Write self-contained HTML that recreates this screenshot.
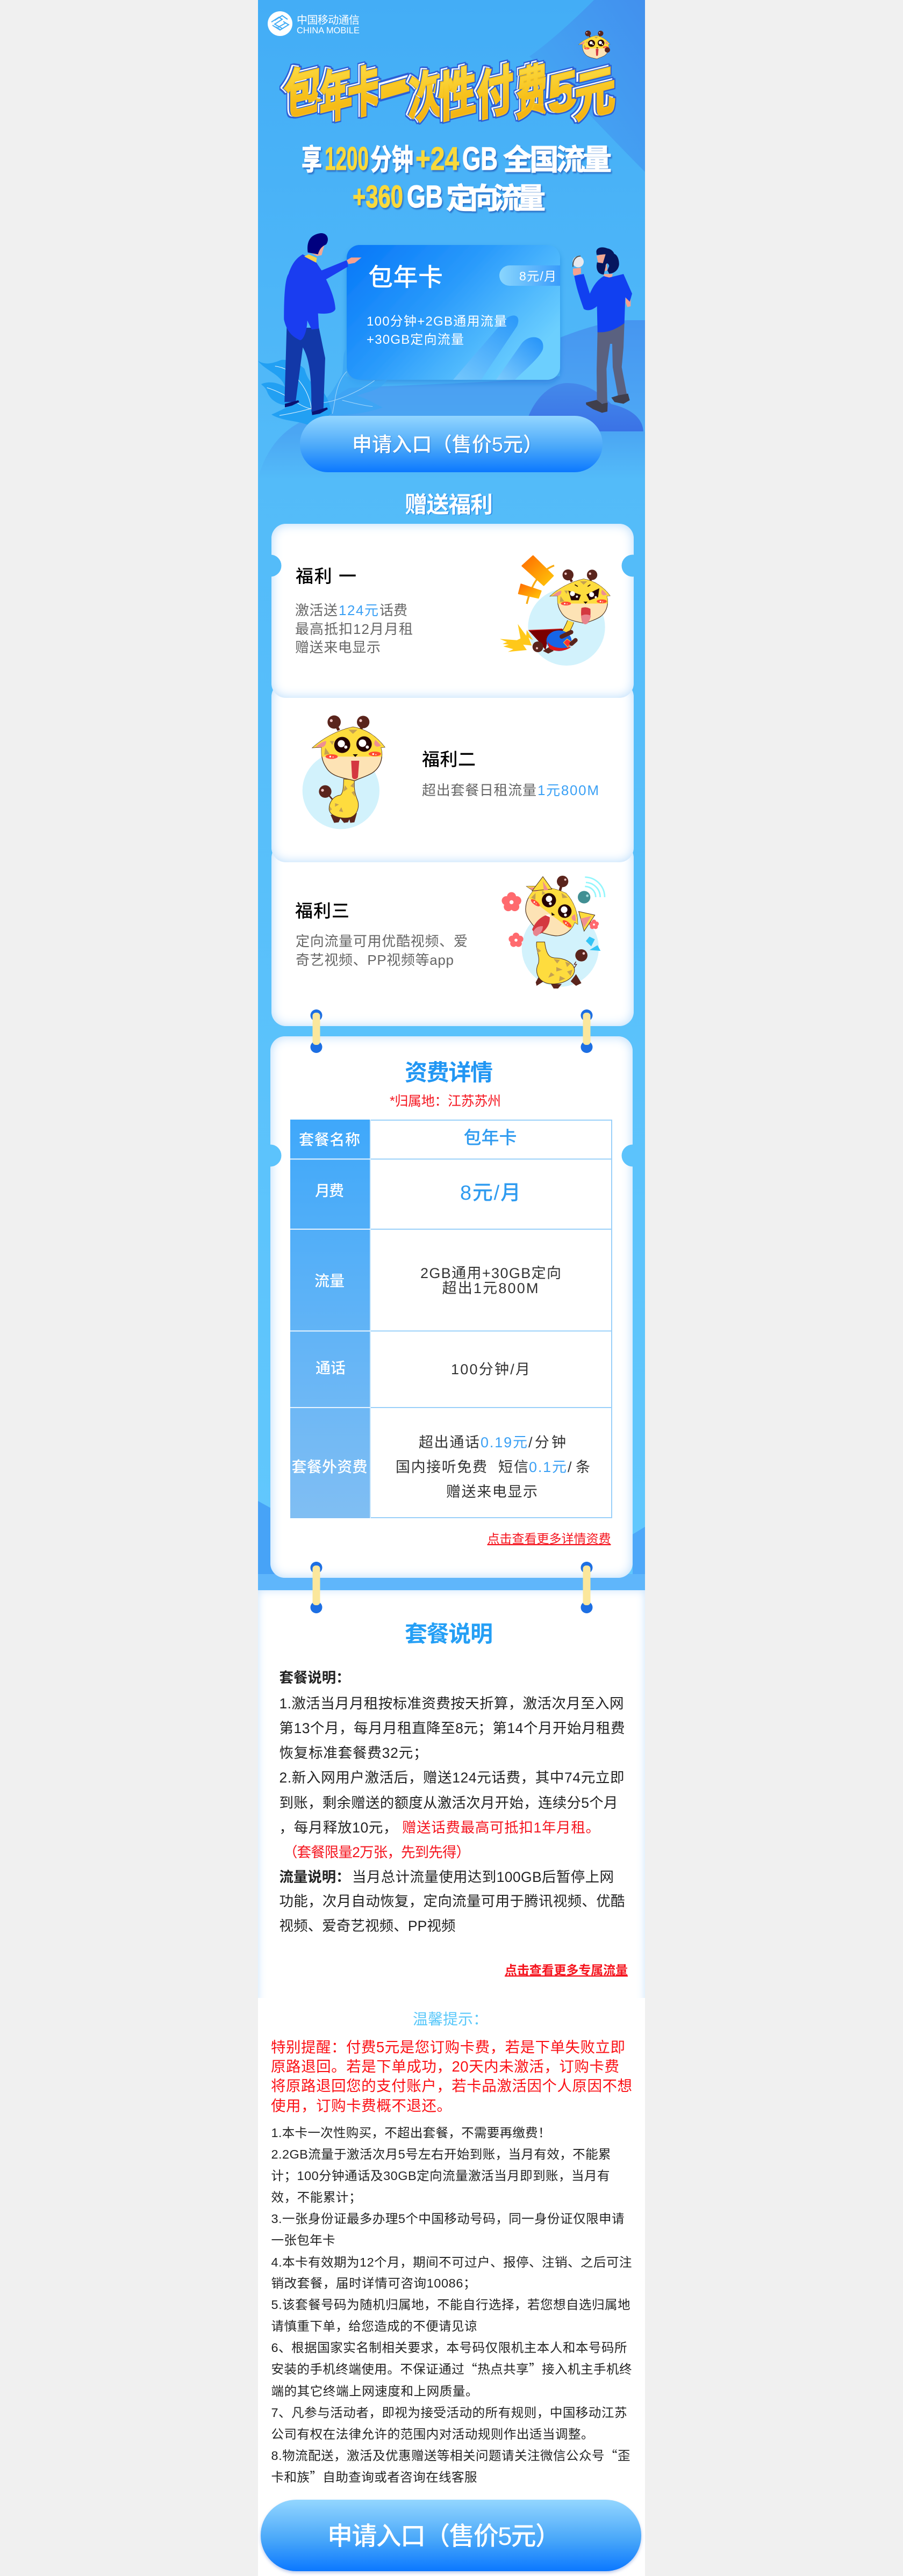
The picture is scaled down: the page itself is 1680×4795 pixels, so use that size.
<!DOCTYPE html>
<html lang="zh"><head><meta charset="utf-8"><title>包年卡</title>
<style>
html,body{margin:0;padding:0;background:#f0f0f0}
#p{position:relative;width:1680px;height:4795px;overflow:hidden;background:#f0f0f0;font-family:"Liberation Sans","Noto Sans CJK SC",sans-serif}
svg{position:absolute;left:0;top:0}
svg text{font-family:"Liberation Sans","Noto Sans CJK SC",sans-serif}
.c{position:absolute;background:#fff;border-radius:27px;box-shadow:inset 0 0 20px #b5dafb}
.g{fill:#666}.h{fill:#3aa0f5}.k{fill:#222}.r{fill:#f5141e}.d{fill:#000;font-weight:500}
.q{font-family:"Noto Sans CJK SC",sans-serif}
</style></head><body><div id="p">
<svg width="1680" height="4795" viewBox="0 0 1680 4795">
<defs>
<linearGradient id="bg" x1="0" y1="0" x2="0" y2="1"><stop offset="0" stop-color="#43adf6"/><stop offset=".3" stop-color="#53bbf9"/><stop offset="1" stop-color="#62c8fd"/></linearGradient>
<linearGradient id="tr" x1="1" y1="0" x2="0" y2="1"><stop offset="0" stop-color="#4290ee"/><stop offset="1" stop-color="#45adf5"/></linearGradient>
<linearGradient id="ba" gradientUnits="userSpaceOnUse" x1="0" y1="596" x2="0" y2="800"><stop offset="0" stop-color="#4696f0"/><stop offset="1" stop-color="#4ea9f5"/></linearGradient>
<linearGradient id="hb" gradientUnits="userSpaceOnUse" x1="0" y1="700" x2="0" y2="892"><stop offset="0" stop-color="#4b9ff1"/><stop offset=".55" stop-color="#4ba6f3"/><stop offset="1" stop-color="#53bbf9"/></linearGradient>
<linearGradient id="hl" gradientUnits="userSpaceOnUse" x1="0" y1="713" x2="0" y2="804"><stop offset="0" stop-color="#4489ea"/><stop offset="1" stop-color="#3a72e6"/></linearGradient>
</defs>
<rect x="480" y="0" width="720" height="2960" fill="url(#bg)"/>
<path d="M1105 0C1060 45 1020 80 985 105C1040 150 1120 240 1200 320V0Z" fill="url(#tr)"/>
<path d="M1043 628C1090 610 1130 598 1167 596H1200V804H1040Z" fill="url(#ba)"/>
<path d="M480 892C495 830 535 790 585 775C600 755 625 735 650 722C760 716 900 714 1042 700L1042 800L1200 804V892Z" fill="url(#hb)"/>
<path d="M975 803C985 750 1020 713 1055 713C1090 713 1115 730 1137 752C1170 760 1195 775 1197 803Z" fill="url(#hl)"/>
<path d="M480 2794L520 2816V2960H480Z" fill="#47a3f7"/>
<path d="M1200 2842L1177 2856V2960H1200Z" fill="#4ea8f9"/>
<rect x="480" y="2930" width="720" height="30" fill="#5fb6fb"/>
</svg>

<div class="c" style="left:505px;top:1570px;width:674px;height:340px;z-index:1"></div>
<div class="c" style="left:505px;top:1270px;width:674px;height:335px;z-index:2"></div>
<div class="c" style="left:505px;top:975px;width:674px;height:324px;z-index:3"></div>
<div class="c" style="left:503px;top:1929px;width:674px;height:1008px;z-index:1"></div>
<div style="position:absolute;left:480px;top:2960px;width:720px;height:790px;background:#fff;box-shadow:inset 0 0 16px #c9e3fd;z-index:1"></div>
<div style="position:absolute;left:480px;top:3719px;width:720px;height:1076px;background:#fff;z-index:2"></div>

<svg width="1680" height="4795" viewBox="0 0 1680 4795" style="z-index:5" font-size="26">
<defs>
<linearGradient id="ty" x1="0" y1="0" x2="0" y2="1"><stop offset="0" stop-color="#fbdc45"/><stop offset=".55" stop-color="#f7c01a"/><stop offset="1" stop-color="#f2ac12"/></linearGradient>
<linearGradient id="cd" x1="0" y1="0" x2="1" y2=".6"><stop offset="0" stop-color="#0576f8"/><stop offset=".5" stop-color="#2a9bfb"/><stop offset="1" stop-color="#6ccffe"/></linearGradient>
<linearGradient id="bt" x1="0" y1="0" x2="0" y2="1"><stop offset="0" stop-color="#93d6ff"/><stop offset=".55" stop-color="#4aa8f9"/><stop offset="1" stop-color="#0b78ff"/></linearGradient>
<linearGradient id="st" x1="1" y1="0" x2="0" y2="1"><stop offset="0" stop-color="#1c8cf8"/><stop offset="1" stop-color="#7fcbfd"/></linearGradient>
<linearGradient id="tb" x1="0" y1="0" x2="0" y2="1"><stop offset="0" stop-color="#3fa8fa"/><stop offset="1" stop-color="#80bef3"/></linearGradient>
<linearGradient id="bf" x1="0" y1="0" x2="1" y2="1"><stop offset="0" stop-color="#ff6a00"/><stop offset="1" stop-color="#ffc80a"/></linearGradient>
<linearGradient id="bd" x1="0" y1="0" x2="1" y2="0"><stop offset="0" stop-color="#8ad6fd"/><stop offset="1" stop-color="#3a9cfb"/></linearGradient>
<filter id="sb" x="-10%" y="-20%" width="125%" height="150%"><feDropShadow dx="0" dy="6" stdDeviation="5" flood-color="#1d6fd0" flood-opacity=".45"/></filter>
<filter id="tt" x="-30%" y="-30%" width="160%" height="160%" color-interpolation-filters="sRGB">
 <feMorphology in="SourceAlpha" operator="dilate" radius="1" result="d"/>
 <feOffset in="d" dx="-6" dy="-3" result="o"/>
 <feFlood flood-color="#fff" result="wf"/><feComposite in="wf" in2="o" operator="in" result="w"/>
 <feOffset in="SourceAlpha" dx="-3" dy="-1.500" result="o2"/>
 <feFlood flood-color="#2c5fd6" result="bf"/><feComposite in="bf" in2="o2" operator="in" result="bi"/>
 <feMerge result="m"><feMergeNode in="w"/><feMergeNode in="bi"/><feMergeNode in="SourceGraphic"/></feMerge>
 <feMorphology in="m" operator="dilate" radius="2.500" result="out"/>
 <feComposite in="bf" in2="out" operator="in" result="bo"/>
 <feMerge><feMergeNode in="bo"/><feMergeNode in="m"/></feMerge>
</filter>
<clipPath id="ck"><rect x="-260" y="-200" width="520" height="215"/></clipPath>
<g id="gh">
 <path id="hp" d="M-210-35C-160-80-80-130 15-150C90-138 150-95 192-38L170-36C185 10 175 70 125 105C85 130 50 135 25 150C-30 135-105 130-135 75C-165 30-160-10-160-38Z" fill="#fde3b5" stroke="#4a2e1a" stroke-width="4"/>
 <path clip-path="url(#ck)" d="M-210-35C-160-80-80-130 15-150C90-138 150-95 192-38L170-36C185 10 175 70 125 105C85 130 50 135 25 150C-30 135-105 130-135 75C-165 30-160-10-160-38Z" fill="#fedc3e"/>
 <path d="M-195-38C-170-60-150-70-135-72C-132-55-145-40-155-38ZM172-45C160-60 150-70 140-78C128-55 135-45 150-40Z" fill="#ee8f92"/>
 <path d="M-140-35L-115 0L-145 5ZM-115-72L-90-72L-100-50ZM-10-135H40L15-112Z" fill="#c4a052"/>
 <ellipse cx="-104" cy="15" rx="34" ry="13" fill="#ff3030" opacity=".85"/><ellipse cx="137" cy="0" rx="34" ry="13" fill="#ff3030" opacity=".85"/>
 <circle cx="-112" cy="15" r="5" fill="#fff"/><circle cx="-96" cy="17" r="3" fill="#fff"/><circle cx="128" cy="1" r="5" fill="#fff"/><circle cx="143" cy="4" r="3" fill="#fff"/>
 <path d="M14 2H42L28 17Z" fill="#1a0805"/>
</g>
<g id="ga"><path d="M-90-178L-64-132M72-178L58-132" stroke="#5a1f14" stroke-width="16" fill="none"/><circle cx="-90" cy="-178" r="37" fill="#5a241c"/><circle cx="72" cy="-178" r="35" fill="#5a241c"/><circle cx="-106" cy="-186" r="8" fill="#f3c7c7"/><circle cx="58" cy="-186" r="8" fill="#f3c7c7"/></g>
<g id="ge"><circle cx="-45" cy="-50" r="45" fill="#250505"/><circle cx="77" cy="-55" r="43" fill="#250505"/><circle cx="-50" cy="-57" r="20" fill="#fff"/><circle cx="-25" cy="-38" r="9" fill="#fff"/><circle cx="68" cy="-60" r="21" fill="#fff"/><circle cx="95" cy="-38" r="9" fill="#fff"/></g>
<g id="fl"><circle cx="0" cy="-11" r="9"/><circle cx="10.500" cy="-3" r="9"/><circle cx="6.500" cy="9" r="9"/><circle cx="-6.500" cy="9" r="9"/><circle cx="-10.500" cy="-3" r="9"/><circle r="4" fill="#fff"/></g>
</defs>

<!-- logo -->
<circle cx="521" cy="44" r="23" fill="#fff"/>
<path d="M505 41L519 32L525 36L511 45L525 53M511 38L525 29L535 36M507 47L521 56L537 46L527 40M513 50L521 55M531 43L517 51" fill="none" stroke="#43adf6" stroke-width="2"/>
<text x="552" y="44" font-size="20" fill="#fff" textLength="117">中国移动通信</text>
<text x="552" y="62" font-size="16.500" fill="#fff" textLength="117" lengthAdjust="spacingAndGlyphs">CHINA MOBILE</text>

<!-- title mascot -->
<g transform="translate(1107 88) scale(.145)"><use href="#ga"/><use href="#gh"/><use href="#ge"/><path d="M10 20H45L38 100C30 115 18 115 14 100Z" fill="#d43840"/></g>
<circle cx="1130" cy="93" r="5" fill="#5a241c"/>
<!-- title -->
<g font-size="98" font-weight="700" text-anchor="middle" fill="url(#ty)" stroke="#f7c31d" stroke-width="4" paint-order="stroke">
<text filter="url(#tt)" transform="translate(564 206) skewY(-14) scale(.74 1)">包</text>
<text filter="url(#tt)" transform="translate(625 215) skewY(-14) scale(.62 1.06)">年</text>
<text filter="url(#tt)" transform="translate(678 206) skewY(-14) scale(.64 1)">卡</text>
<text filter="url(#tt)" transform="translate(735 222) skewY(-16) scale(.56 1.5)">一</text>
<text filter="url(#tt)" transform="translate(792 214) skewY(-14) scale(.66 1)">次</text>
<text filter="url(#tt)" transform="translate(851 210) skewY(-14) scale(.72 1)">性</text>
<text filter="url(#tt)" transform="translate(921 207) skewY(-14) scale(.7 1)">付</text>
<text filter="url(#tt)" transform="translate(990 207) skewY(-14) scale(.6 1.04)">费</text>
<text filter="url(#tt)" transform="translate(1047 206) skewY(-14) scale(1 1.02)">5</text>
<text filter="url(#tt)" transform="translate(1107 209) skewY(-14) scale(.78 1)">元</text>
</g>
<!-- subtitle -->
<g font-weight="700" stroke-width="1.200" style="filter:drop-shadow(2px 3px 1px #2d74cb)">
<text x="561" y="316" font-size="54" fill="#fff" stroke="#fff" textLength="38" lengthAdjust="spacingAndGlyphs">享</text>
<text x="604" y="316" font-size="60" fill="#f8d93c" stroke="#f8d93c" textLength="82" lengthAdjust="spacingAndGlyphs">1200</text>
<text x="689" y="316" font-size="54" fill="#fff" stroke="#fff" textLength="80" lengthAdjust="spacingAndGlyphs">分钟</text>
<text x="773" y="316" font-size="60" fill="#f8d93c" stroke="#f8d93c" textLength="81" lengthAdjust="spacingAndGlyphs">+24</text>
<text x="860" y="316" font-size="60" fill="#fff" stroke="#fff" textLength="66" lengthAdjust="spacingAndGlyphs">GB</text>
<text x="936" y="316" font-size="54" fill="#fff" stroke="#fff" textLength="202">全国流量</text>
<text x="656" y="386" font-size="58" fill="#f8d93c" stroke="#f8d93c" textLength="94" lengthAdjust="spacingAndGlyphs">+360</text>
<text x="757" y="386" font-size="58" fill="#fff" stroke="#fff" textLength="67" lengthAdjust="spacingAndGlyphs">GB</text>
<text x="830" y="388" font-size="54" fill="#fff" stroke="#fff" textLength="185">定向流量</text>
</g>

<!-- card -->
<rect x="645" y="456" width="397" height="251" rx="24" fill="url(#cd)" filter="url(#sb)"/>
<clipPath id="cc"><rect x="645" y="456" width="397" height="251" rx="24"/></clipPath>
<g clip-path="url(#cc)">
<path d="M843 707L935 600C948 582 972 582 962 607L895 707Z" fill="url(#st)" opacity=".75"/>
<path d="M923 707L970 640C985 620 1015 625 1010 650C1005 665 975 690 958 707Z" fill="url(#st)" opacity=".9"/>
<path d="M948 494H1042V532H948A19 19 0 0 1 948 494Z" fill="url(#bd)"/>
</g>
<text x="685" y="532" font-size="46" font-weight="500" fill="#fff" textLength="139">包年卡</text>
<text x="966" y="522" font-size="23" fill="#fff" textLength="69">8元/月</text>
<text x="682" y="606" font-size="24" fill="#fff" textLength="261">100分钟+2GB通用流量</text>
<text x="682" y="640" font-size="24" fill="#fff" textLength="181">+30GB定向流量</text>

<!-- man left, leaves -->
<g transform="translate(480 420) scale(.33333)">
<path d="M350 990C400 960 440 880 470 830C480 780 470 720 490 690L490 840C540 860 630 880 720 860C690 920 600 930 550 950C620 970 660 1000 695 1015C630 1040 520 1060 410 1060Z" fill="#3aa5f4" opacity=".75"/>
<path d="M0 755C40 780 80 770 130 750C170 745 230 770 260 800C270 840 290 880 330 900C370 920 400 980 410 1050C370 1075 320 1115 270 1110C220 1090 130 1090 75 1055C110 1040 150 1020 180 1005C120 1005 70 980 50 925C40 900 25 895 18 885C50 870 100 870 150 900C130 830 40 810 0 755Z" fill="#22a0f3"/>
<path d="M95 785C140 790 190 810 240 880C270 920 290 970 298 1020M50 905C100 920 160 950 220 990C250 1010 280 1020 300 1025M120 1060C180 1050 250 1035 300 1020" stroke="#fff" stroke-width="3" fill="none" opacity=".9"/>
<path d="M495 815C460 850 440 900 430 970C425 1000 420 1030 415 1050M350 990C430 985 560 930 650 865M470 975C530 990 590 1005 640 1010" stroke="#a8d8fa" stroke-width="3" fill="none"/>
<path d="M160 570L148 985L210 985L250 680C290 750 300 850 298 1040L365 1030L375 740L340 570Z" fill="#1238a8"/>
<path d="M150 995L225 975L230 985L190 1005L150 1015ZM300 1040L385 1015L390 1025L345 1050L302 1058Z" fill="#0b1270"/>
<path d="M345 415L358 450L335 485L298 475L330 460Z" fill="#f5a18f"/>
<path d="M290 150L330 170L355 165L370 110L330 100Z" fill="#f2a793"/>
<path d="M250 160L275 175L325 205L355 250L495 193L503 228L380 300C410 360 430 420 432 465C425 490 380 495 335 490L340 575L300 580L275 530C275 580 255 640 235 640C190 620 160 590 145 525C145 400 150 300 170 270C190 210 215 180 250 160Z" fill="#1a3df0"/>
<path d="M258 172L282 160L328 180L325 207Z" fill="#f7d048"/>
<path d="M278 150C270 90 290 50 350 42C390 40 400 80 380 105C360 115 345 125 335 160Z" fill="#00007f"/>
<path d="M495 193L520 178L578 178L540 208L505 215Z" fill="#f5a18f"/>
</g>

<!-- man right -->
<g transform="translate(960 430) scale(.33333)">
<path d="M455 560L605 515L600 650L590 760L620 920L570 925L540 760L537 630L525 630L505 770L510 965L452 960L450 780Z" fill="#5a6180"/>
<path d="M390 958L450 943L480 965L512 958L510 1008L480 1015L430 995L392 970ZM532 930L570 918L625 908L635 945L600 965L550 955Z" fill="#403f4d"/>
<ellipse cx="347" cy="172" rx="31" ry="31" fill="#e8e9ee"/><path d="M360 140C335 140 315 160 318 200" stroke="#555" stroke-width="6" fill="none"/>
<path d="M318 210L362 205L363 238L325 250L318 240ZM612 370L640 380L640 420L622 425L612 400Z" fill="#f5a18f"/>
<path d="M490 240L540 240L535 258L510 262L490 250ZM450 140L500 120L510 220L470 230Z" fill="#f2a793"/>
<path d="M325 250L378 240L412 350C430 310 450 275 490 252L520 260L600 240L648 350L635 395L610 370L605 515C570 540 520 570 455 565L452 420C430 440 400 450 378 435C355 370 335 310 325 250Z" fill="#1140f0"/>
<path d="M448 115C450 92 480 85 510 97C530 100 545 115 548 127C570 135 577 170 575 190C570 220 545 238 520 238L510 220L520 195C515 175 500 175 500 200L490 243C465 243 448 225 450 190L452 175L485 180L500 130C480 130 460 135 450 133Z" fill="#06165e"/>
</g>

<!-- button 1 -->
<rect x="558" y="774" width="563" height="105" rx="52" fill="url(#bt)"/>
<text x="655" y="840" font-size="37" font-weight="500" fill="#fff" textLength="355" style="filter:drop-shadow(1px 1px 1px rgba(20,80,170,.4))">申请入口（售价5元）</text>

<!-- benefits -->
<text x="753" y="954" font-size="42" font-weight="700" fill="#fff" textLength="164" style="filter:drop-shadow(2px 1px 0 #2f8fe8)">赠送福利</text>
<g fill="#54bcf9"><circle cx="503" cy="1053" r="20.500"/><circle cx="1177" cy="1053" r="20.500"/></g>

<text x="550" y="1084" font-size="33" class="d" textLength="113">福利 一</text>
<text x="549" y="1145" class="g" textLength="79">激活送</text><text x="630" y="1145" class="h" textLength="74">124元</text><text x="706" y="1145" class="g" textLength="52">话费</text>
<text x="549" y="1180" class="g" textLength="219">最高抵扣12月月租</text>
<text x="549" y="1214" class="g" textLength="159">赠送来电显示</text>

<!-- giraffe 1 -->
<g transform="translate(930 1010) scale(.33333)">
<circle cx="372" cy="472" r="215" fill="#d2f2fc"/>
<path d="M303 128Q190 170 150 342" stroke="#f8ab12" stroke-width="10" fill="none"/>
<path d="M185 75L297 185L245 238L125 130Z" fill="url(#bf)" stroke="url(#bf)" stroke-width="8" stroke-linejoin="round"/>
<path d="M118 232L230 270L215 310L104 285Z" fill="url(#bf)" stroke="url(#bf)" stroke-width="6" stroke-linejoin="round"/>
<path d="M100 455L147 520L150 488L185 545L160 530L178 575L130 570L150 600L45 610L75 595L20 580L50 570L15 565L40 555L0 538L95 545L115 535Z" fill="#ffc81a"/>
<path d="M160 490L345 482L365 495L270 530L255 600L215 550Z" fill="#7a0000"/>
<path d="M160 490L345 482L365 495" stroke="#d42020" stroke-width="4" fill="none"/>
<path d="M395 440C385 470 370 490 360 515" stroke="#4a2e1a" stroke-width="40" fill="none"/><path d="M395 440C385 470 370 490 360 515" stroke="#fedc3e" stroke-width="34" fill="none"/>
<ellipse cx="212" cy="582" rx="30" ry="30" fill="#5a241c"/><circle cx="207" cy="590" r="6" fill="#f3c7c7"/>
<path d="M240 605L280 580L300 605L270 620Z" fill="#5a241c"/>
<ellipse cx="330" cy="548" rx="70" ry="58" fill="#1665e6"/>
<path d="M264 545C275 585 340 600 398 580C380 605 300 615 275 590Z" fill="#e01818"/>
<path d="M375 538L398 555L380 585L355 558Z" fill="#f33" stroke="#ffd21f" stroke-width="3"/>
<path d="M345 525L398 500M400 565L422 545" stroke="#5a241c" stroke-width="24" stroke-linecap="round"/>
<g transform="translate(455 328) scale(.83)"><use href="#ga"/><use href="#gh"/></g>
<path d="M382 268L452 292L440 322L398 322ZM483 290L555 255L548 305L500 322Z" fill="#250505"/>
<circle cx="405" cy="285" r="14" fill="#fff"/><circle cx="430" cy="302" r="6" fill="#fff"/><circle cx="512" cy="290" r="14" fill="#fff"/><circle cx="535" cy="305" r="6" fill="#fff"/>
<path d="M418 235L435 245M505 235L490 245" stroke="#250505" stroke-width="5"/>
<path d="M455 365Q480 355 505 370Q510 420 490 450Q470 465 458 440Q450 400 455 365Z" fill="#d43840"/>
<path d="M455 408Q480 395 508 408Q505 430 490 450Q470 465 458 440Z" fill="#e8848e"/>
</g>

<!-- giraffe 2 -->
<g transform="translate(540 1320) scale(.33333)">
<circle cx="283" cy="455" r="215" fill="#d2f2fc"/>
<path d="M215 480L240 510" stroke="#5a241c" stroke-width="8"/><circle cx="195" cy="460" r="35" fill="#5a241c"/><circle cx="180" cy="453" r="8" fill="#f3c7c7"/>
<path d="M225 590L245 635L270 632L280 610L300 635L322 632L330 615L335 635L358 632L372 580Z" fill="#5a241c"/>
<path d="M298 390C298 430 295 470 280 480C240 485 215 520 217 560C222 600 290 615 335 605C375 590 385 550 378 515C365 480 355 460 358 395Z" fill="#fedc3e" stroke="#4a2e1a" stroke-width="3"/>
<path d="M305 425L320 445L295 462ZM335 430L355 410L358 440ZM342 465L362 490L360 455ZM250 525L272 533L250 545ZM272 570L295 575L285 548ZM220 540L232 560L220 570Z" fill="#c4a052"/>
<g transform="translate(335 250)"><use href="#ga"/><use href="#gh"/><use href="#ge"/></g>
<path d="M340 288H385L378 380C370 395 350 395 345 380Z" fill="#d43840"/>
</g>

<text x="785" y="1425" font-size="33" class="d" textLength="100">福利二</text>
<text x="785" y="1480" class="g" textLength="213">超出套餐日租流量</text><text x="1000" y="1480" class="h" textLength="114">1元800M</text>

<text x="549" y="1707" font-size="33" class="d" textLength="101">福利三</text>
<text x="550" y="1761" class="g" textLength="320">定向流量可用优酷视频、爱</text>
<text x="550" y="1796" class="g" textLength="294">奇艺视频、PP视频等app</text>

<!-- giraffe 3 -->
<g transform="translate(930 1620) scale(.33333)">
<circle cx="337" cy="435" r="215" fill="#d2f2fc"/>
<path d="M200 625L225 580L245 620L205 645ZM395 620L425 580L455 630L425 645ZM285 635L345 635L325 660L300 660Z" fill="#5a241c"/>
<path d="M425 510L415 525L428 525L415 545" stroke="#5a241c" stroke-width="4" fill="none"/>
<circle cx="455" cy="475" r="34" fill="#5a241c"/><circle cx="468" cy="464" r="7" fill="#f3c7c7"/>
<path d="M205 400C200 450 225 480 215 520C195 560 205 610 260 630C320 645 400 620 415 570C425 530 380 495 320 490C280 490 260 480 250 400Z" fill="#fedc3e" stroke="#4a2e1a" stroke-width="3"/>
<path d="M205 430L230 450L210 462ZM300 495L335 500L320 520ZM315 540L350 555L315 565ZM365 510L395 520L375 540ZM270 600L305 585L285 570ZM330 620L365 605L335 590ZM375 565L405 555L395 590Z" fill="#c4a052"/>
<g fill="#ff6a6e"><use href="#fl" transform="translate(65 178) scale(2.8)"/><use href="#fl" transform="translate(90 390) scale(2.1)"/><use href="#fl" transform="translate(525 303) scale(1.400)"/></g>
<path d="M350 60L335 115M445 170L470 150" stroke="#5a241c" stroke-width="14"/><circle cx="350" cy="62" r="32" fill="#5a241c"/><circle cx="365" cy="52" r="6" fill="#f3c7c7"/>
<circle cx="470" cy="150" r="35" fill="#418f93"/><circle cx="488" cy="142" r="7" fill="#a9dfe0"/>
<g fill="none" stroke-width="8"><path d="M475 38A112 112 0 0 1 585 150M480 68A82 82 0 0 1 560 150M475 90A60 60 0 0 1 535 150" stroke="#7ff4fb" opacity=".85"/></g>
<g transform="translate(279 226) rotate(37) scale(.88)"><use href="#gh"/><use href="#ge"/></g>
<path d="M180 115L240 35L290 105ZM440 230L530 250L470 340Z" fill="#fedc3e" stroke="#4a2e1a" stroke-width="3"/>
<path d="M240 60L270 110L245 112ZM450 270L510 255L470 320Z" fill="#ee8f92"/>
<path d="M180 330Q210 260 275 245Q290 300 240 345Q200 375 180 330Z" fill="#d43840"/>
<path d="M185 345Q200 310 240 312Q240 345 205 368Q185 365 185 345Z" fill="#e8848e"/>
<path d="M252 250L277 245L280 262Z" fill="#fff"/>
<path d="M500 370L530 385L510 425L480 395ZM500 445L545 418L562 450Z" fill="#33c4f6"/>
</g>

<!-- rings 1 -->
<g fill="#1d6fe3"><circle cx="588.500" cy="1890" r="11"/><circle cx="1091.500" cy="1890" r="11"/><circle cx="588.500" cy="1949" r="11"/><circle cx="1091.500" cy="1949" r="11"/></g>
<g fill="#fbe79c"><rect x="581.500" y="1885" width="14" height="60" rx="6"/><rect x="1084.500" y="1885" width="14" height="60" rx="6"/></g>

<!-- fees -->
<text x="753" y="2011" font-size="42" font-weight="700" fill="#2196f3" textLength="164">资费详情</text>
<text x="725" y="2058" font-size="25" fill="#f5141e" textLength="207">*归属地：江苏苏州</text>
<g fill="#5cc3fc"><circle cx="503" cy="2151" r="20.500"/><circle cx="1177" cy="2151" r="20.500"/></g>
<rect x="540" y="2084" width="149" height="742" fill="url(#tb)"/>
<g fill="none" stroke="#9ad0f9" stroke-width="2"><rect x="689" y="2085" width="449" height="740"/><path d="M689 2157.500H1138M689 2288H1138M689 2477.500H1138M689 2620H1138"/></g>
<path d="M540 2157.500H689M540 2288H689M540 2477.500H689M540 2620H689" stroke="#e8f4fe" stroke-width="2"/>
<path d="M689 2084V2826" stroke="#fff" stroke-width="1"/>
<g font-size="28" font-weight="500" fill="#fff" text-anchor="middle">
<text x="613" y="2131" textLength="114">套餐名称</text><text x="613" y="2226" textLength="54">月费</text><text x="613" y="2394" textLength="56">流量</text><text x="615" y="2556" textLength="56">通话</text><text x="613" y="2740" textLength="141">套餐外资费</text>
</g>
<text x="912" y="2129" font-size="33" font-weight="500" fill="#2f9bf0" text-anchor="middle" textLength="99">包年卡</text>
<text x="912.500" y="2233" font-size="38" font-weight="500" fill="#2f9bf0" text-anchor="middle" textLength="113">8元/月</text>
<g font-size="27" fill="#333" text-anchor="middle">
<text x="913" y="2379" textLength="262">2GB通用+30GB定向</text>
<text x="912" y="2407" textLength="179">超出1元800M</text>
<text x="912.500" y="2558" textLength="147">100分钟/月</text>
<text x="915" y="2786" textLength="170">赠送来电显示</text>
</g>
<g font-size="27" fill="#333">
<text x="779" y="2694" textLength="113">超出通话</text><text x="894" y="2694" class="h" textLength="87">0.19元</text><text x="983" y="2694" textLength="70">/分钟</text>
<text x="736" y="2740" textLength="170">国内接听免费</text><text x="927" y="2740" textLength="56">短信</text><text x="984" y="2740" class="h" textLength="70">0.1元</text><text x="1056" y="2740" textLength="42">/条</text>
</g>
<text x="906.500" y="2872" font-size="23" fill="#f5141e" textLength="230" text-decoration="underline">点击查看更多详情资费</text>

<!-- rings 2 -->
<g fill="#1d6fe3"><circle cx="588.500" cy="2918" r="11"/><circle cx="1091.500" cy="2918" r="11"/><circle cx="588.500" cy="2992" r="11"/><circle cx="1091.500" cy="2992" r="11"/></g>
<g fill="#fbe79c"><rect x="581.500" y="2914" width="14" height="74" rx="6"/><rect x="1084.500" y="2914" width="14" height="74" rx="6"/></g>

<!-- package text -->
<text x="753" y="3056" font-size="42" font-weight="700" fill="#259ff5" textLength="164">套餐说明</text>
<g font-size="26.500" fill="#222">
<text x="519.500" y="3132" font-weight="700" textLength="132">套餐说明：</text>
<text x="519.500" y="3180" textLength="641">1.激活当月月租按标准资费按天折算，激活次月至入网</text>
<text x="519.500" y="3226" textLength="643">第13个月，每月月租直降至8元；第14个月开始月租费</text>
<text x="519.500" y="3272" textLength="276">恢复标准套餐费32元；</text>
<text x="519.500" y="3318" textLength="642">2.新入网用户激活后，赠送124元话费，其中74元立即</text>
<text x="519.500" y="3365" textLength="630">到账，剩余赠送的额度从激活次月开始，连续分5个月</text>
<text x="519.500" y="3411" textLength="220">，每月释放10元，</text>
<text x="748" y="3411" class="r" textLength="368">赠送话费最高可抵扣1年月租。</text>
<text x="527" y="3457" class="r" textLength="348">（套餐限量2万张，先到先得）</text>
<text x="519.500" y="3503" font-weight="700" textLength="132">流量说明：</text>
<text x="655" y="3503" textLength="487">当月总计流量使用达到100GB后暂停上网</text>
<text x="519.500" y="3548" textLength="643">功能，次月自动恢复，定向流量可用于腾讯视频、优酷</text>
<text x="519.500" y="3594" textLength="328">视频、爱奇艺视频、PP视频</text>
</g>
<text x="939" y="3675" font-size="23" font-weight="700" fill="#f5141e" textLength="229" text-decoration="underline">点击查看更多专属流量</text>

<!-- notes -->
<text x="768" y="3768" font-size="28" fill="#5ac8fa" textLength="140">温馨提示：</text>
<g font-size="27.500" fill="#fb0f14">
<text x="504" y="3820" textLength="659">特别提醒：付费5元是您订购卡费，若是下单失败立即</text>
<text x="504" y="3856" textLength="648">原路退回。若是下单成功，20天内未激活，订购卡费</text>
<text x="504" y="3892" textLength="672">将原路退回您的支付账户，若卡品激活因个人原因不想</text>
<text x="504" y="3929" textLength="336">使用，订购卡费概不退还。</text>
</g>
<g font-size="23.500" fill="#222">
<text x="504.500" y="3978" textLength="520">1.本卡一次性购买，不超出套餐，不需要再缴费！</text>
<text x="504.500" y="4018" textLength="632">2.2GB流量于激活次月5号左右开始到账，当月有效，不能累</text>
<text x="504.500" y="4058" textLength="630">计；100分钟通话及30GB定向流量激活当月即到账，当月有</text>
<text x="504.500" y="4098" textLength="168">效，不能累计；</text>
<text x="504.500" y="4138" textLength="657">3.一张身份证最多办理5个中国移动号码，同一身份证仅限申请</text>
<text x="504.500" y="4178" textLength="119">一张包年卡</text>
<text x="504.500" y="4219" textLength="671">4.本卡有效期为12个月，期间不可过户、报停、注销、之后可注</text>
<text x="504.500" y="4258" textLength="381">销改套餐，届时详情可咨询10086；</text>
<text x="504.500" y="4298" textLength="668">5.该套餐号码为随机归属地，不能自行选择，若您想自选归属地</text>
<text x="504.500" y="4338" textLength="383">请慎重下单，给您造成的不便请见谅</text>
<text x="504.500" y="4378" textLength="662">6、根据国家实名制相关要求，本号码仅限机主本人和本号码所</text>
<text x="504.500" y="4418" textLength="671">安装的手机终端使用。不保证通过<tspan class="q">“</tspan>热点共享<tspan class="q">”</tspan>接入机主手机终</text>
<text x="504.500" y="4459" textLength="385">端的其它终端上网速度和上网质量。</text>
<text x="504.500" y="4499" textLength="662">7、凡参与活动者，即视为接受活动的所有规则，中国移动江苏</text>
<text x="504.500" y="4539" textLength="600">公司有权在法律允许的范围内对活动规则作出适当调整。</text>
<text x="504.500" y="4579" textLength="668">8.物流配送，激活及优惠赠送等相关问题请关注微信公众号<tspan class="q">“</tspan>歪</text>
<text x="504.500" y="4619" textLength="383">卡和族<tspan class="q">”</tspan>自助查询或者咨询在线客服</text>
</g>

<!-- button 2 -->
<rect x="485" y="4653" width="708" height="133" rx="66" fill="url(#bt)" style="filter:drop-shadow(0 3px 3px rgba(60,100,200,.35))"/>
<text x="609" y="4737" font-size="47" font-weight="500" fill="#fff" textLength="434">申请入口（售价5元）</text>
</svg>
</div></body></html>
